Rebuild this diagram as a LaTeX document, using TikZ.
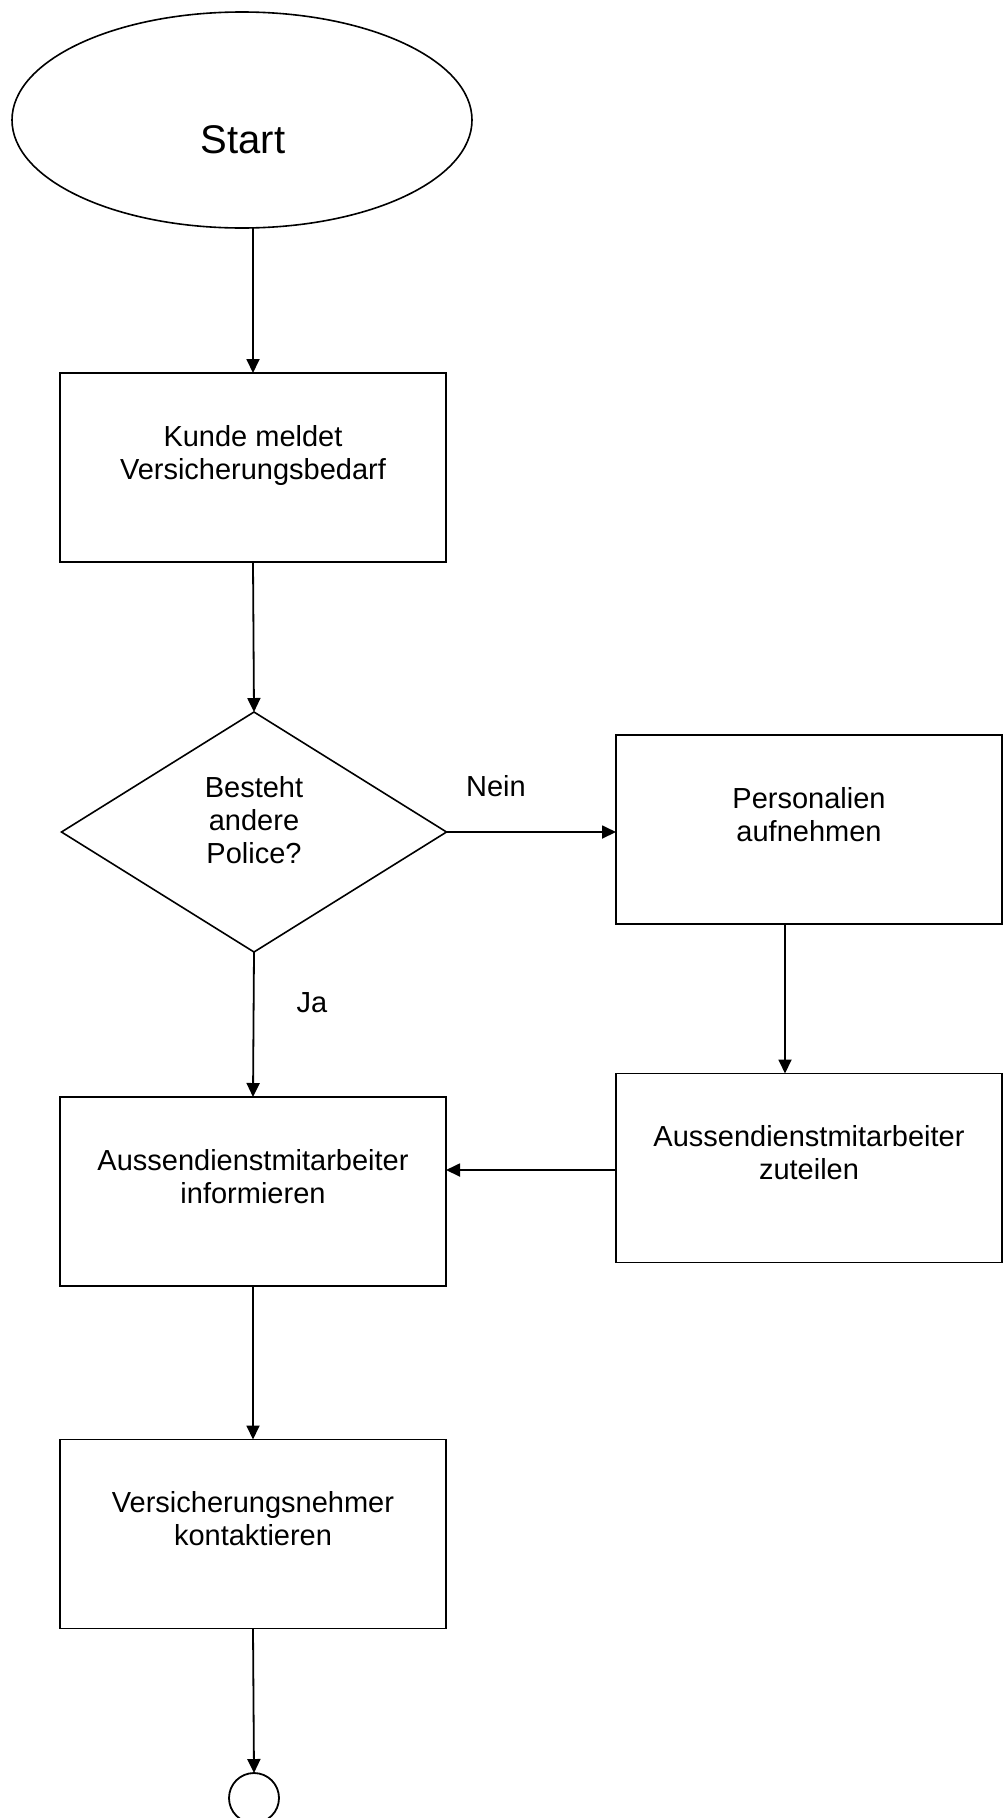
\documentclass[tikz,border=0pt]{standalone}
\usepackage{fontspec}
\setmainfont{Liberation Sans}
\usetikzlibrary{shapes.geometric,arrows.meta}
\tikzset{
  box/.style={draw,line width=1.9pt,minimum width=386pt,minimum height=189pt,inner sep=0pt,outer sep=0pt},
  txt/.style={align=center,inner sep=0pt,font=\fontsize{29}{33}\selectfont},
  lbl/.style={inner sep=0pt,font=\fontsize{29}{33}\selectfont},
}
\begin{document}
\begin{tikzpicture}[>={Triangle[length=14pt,width=13pt]},x=1pt,y=-1pt,line width=1.8pt]
	\useasboundingbox (0,0) rectangle (1003,1818);
	% Start
	\node[ellipse,draw,line width=1.6pt,minimum width=460pt,minimum height=216pt,inner sep=0pt,outer sep=0pt] (start) at (242,120) {};
	\node[lbl,font=\fontsize{40}{46}\selectfont] (startT) at (243,140) {Start};
	% Kaesten
	\node[box] (kunde) at (253,467.5) {};
	\node[txt] (kundeT) at (253,455) {Kunde meldet\\Versicherungsbedarf};
	\node[diamond,draw,line width=1.6pt,minimum width=385pt,minimum height=240pt,inner sep=0pt,outer sep=0pt] (frage) at (254,832) {};
	\node[txt] (frageT) at (254,820) {Besteht\\andere\\Police?};
	\node[box] (pers) at (809,829.5) {};
	\node[txt] (persT) at (809,815) {Personalien\\aufnehmen};
	\node[box] (zuteil) at (809,1168) {};
	\node[txt] (zuteilT) at (809,1153) {Aussendienstmitarbeiter\\zuteilen};
	\node[box] (info) at (253,1191.5) {};
	\node[txt] (infoT) at (253,1177) {Aussendienstmitarbeiter\\informieren};
	\node[box] (vn) at (253,1534) {};
	\node[txt] (vnT) at (253,1519) {Versicherungsnehmer\\kontaktieren};
	\node[circle,draw,minimum size=50pt,inner sep=0pt,outer sep=0pt] (ende) at (254,1798) {};
	% Pfeile
	\draw[->] (start.south -| kunde.north) -- (kunde.north);
	\draw[->] (kunde.south) -- (frage.north);
	\draw[->] (frage.east) -- (pers.west |- frage.east);
	\node[lbl] (nein) at (496,786) {Nein};
	\draw[->] (frage.south) -- (info.north);
	\node[lbl] (ja) at (312,1003) {Ja};
	\draw[->] ([xshift=-24pt]pers.south) -- ([xshift=-24pt]zuteil.north);
	\draw[->] (zuteil.west |- 0,1170) -- (info.east |- 0,1170);
	\draw[->] (info.south) -- (vn.north);
	\draw[->] (vn.south) -- (ende.north);
\end{tikzpicture}
\end{document}
